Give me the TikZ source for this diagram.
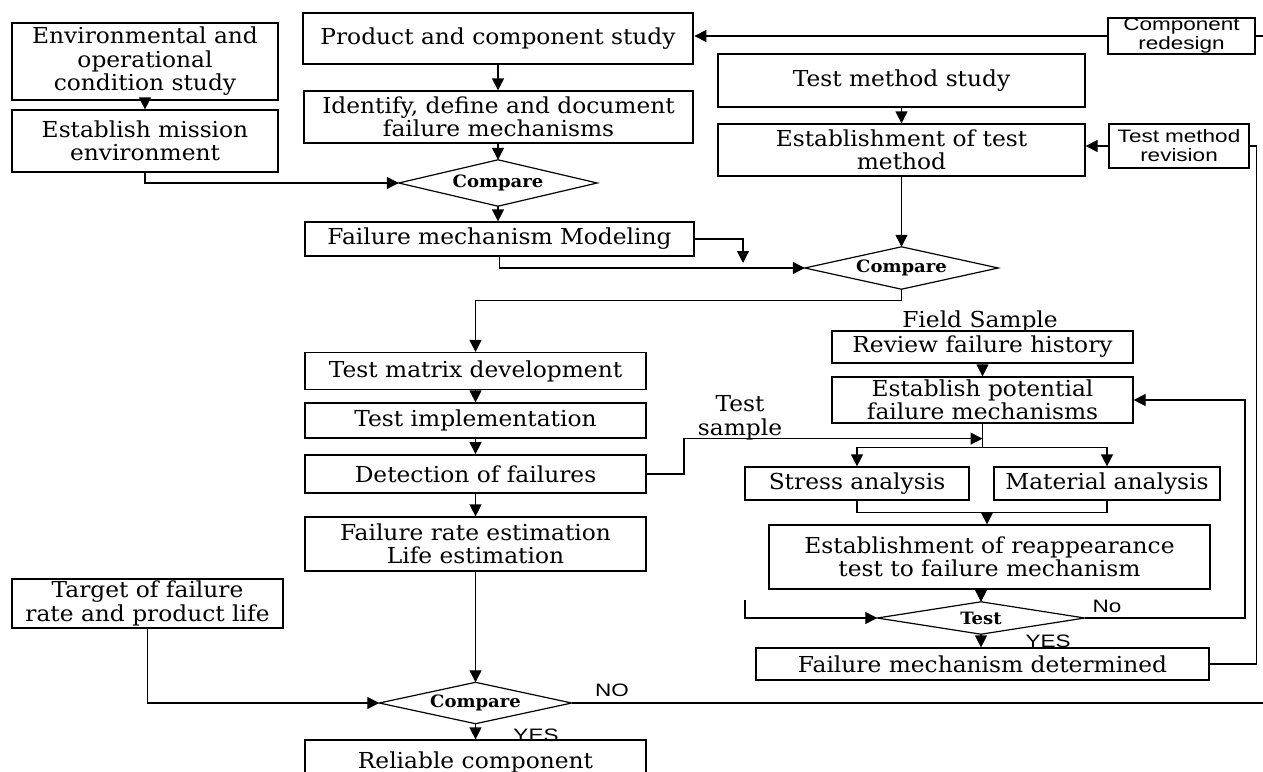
\documentclass[tikz,border=0pt]{standalone}
\usepackage{fontspec}
\setmainfont{DejaVu Serif}[FakeStretch=1.06]
\newfontfamily\lsans{Liberation Sans}[FakeStretch=1.25]
\usetikzlibrary{shapes.geometric,arrows.meta,calc}
\newcommand{\mfs}{\fontsize{22}{23.5}\selectfont}
\newcommand{\cfs}{\fontsize{17}{18}\selectfont\bfseries}
\newcommand{\sfsz}{\lsans\fontsize{18}{19}\selectfont}
\newcommand{\drawdiamond}[1]{\draw[line width=1.2pt] (#1.north) -- (#1.east) -- (#1.south) -- (#1.west) -- cycle;}
\begin{document}
\begin{tikzpicture}[x=1pt,y=-1pt,
  box/.style={draw, line width=1.2pt, inner sep=0pt, align=center, font=\mfs},
  thickbox/.style={box, line width=2.8pt},
  sbox/.style={draw, line width=1.2pt, inner sep=0pt, align=center, font=\sfsz},
  dec/.style={rectangle, inner sep=0pt, font=\cfs},
  lab/.style={inner sep=0pt, font=\sfsz},
  tlab/.style={inner sep=0pt, align=center, font=\mfs},
  ln/.style={line width=1.2pt},
  arr/.style={line width=1.2pt, -{Triangle[length=12pt,width=12pt]}}]
\fill[white] (0,0) rectangle (1263,771);
\useasboundingbox (0,0) rectangle (1263,771);

% top-left column
\node[thickbox, minimum width=266, minimum height=77] (env) at (145,61.5) {Environmental and\\operational\\condition study};
\node[box, minimum width=266, minimum height=62] (mission) at (145,141) {Establish mission\\environment};

% centre column
\node[thickbox, minimum width=390, minimum height=51] (product) at (498,38.5) {Product and component study};
\node[box, minimum width=389, minimum height=52] (identify) at (498.5,117) {Identify, define and document\\failure mechanisms};
\node[dec, minimum width=198, minimum height=46] (cmp1) at (498,183) {Compare};
\node[box, minimum width=389, minimum height=34] (fmm) at (499.5,239) {Failure mechanism Modeling};

% top-right
\node[thickbox, minimum width=367, minimum height=53] (tms) at (901.5,80.5) {Test method study};
\node[box, minimum width=367, minimum height=52] (estm) at (901.5,150) {Establishment of test\\method};
\node[sbox, minimum width=147, minimum height=36] (compred) at (1181.5,36) {Component\\redesign};
\node[sbox, minimum width=140, minimum height=44] (tmrev) at (1179,146) {Test method\\revision};
\node[dec, minimum width=193, minimum height=42] (cmp2) at (901.5,268) {Compare};

% left lower column
\node[box, minimum width=341, minimum height=37] (testmatrix) at (475.5,371) {Test matrix development};
\node[box, minimum width=341, minimum height=35] (testimpl) at (475.5,420.5) {Test implementation};
\node[box, line width=1.8pt, minimum width=341, minimum height=38] (detect) at (475.5,474) {Detection of failures};
\node[box, minimum width=341, minimum height=54] (failrate) at (475.5,544) {Failure rate estimation\\Life estimation};
\node[box, minimum width=271, minimum height=49] (target) at (147.5,603.5) {Target of failure\\rate and product life};
\node[dec, minimum width=192, minimum height=41] (cmp3) at (475.5,703) {Compare};
\node[box, minimum width=341, minimum height=44] (reliable) at (475.5,762) {Reliable component};
\node[tlab] (tsample) at (740,418) {Test\\sample};

% right lower column
\node[tlab] (field) at (980,321) {Field Sample};
\node[box, minimum width=301, minimum height=32] (review) at (982.5,347) {Review failure history};
\node[box, minimum width=301, minimum height=46] (estpot) at (982.5,400) {Establish potential\\failure mechanisms};
\node[box, minimum width=224, minimum height=33] (stress) at (857,483.5) {Stress analysis};
\node[box, minimum width=226, minimum height=33] (material) at (1107,483.5) {Material analysis};
\node[box, minimum width=441, minimum height=64] (reapp) at (989.5,557) {Establishment of reappearance\\test to failure mechanism};
\node[dec, minimum width=207, minimum height=32] (testd) at (981,618) {Test};
\node[box, minimum width=453, minimum height=32] (fmd) at (982.5,664) {Failure mechanism determined};

% diamonds
\drawdiamond{cmp1}
\drawdiamond{cmp2}
\drawdiamond{cmp3}
\drawdiamond{testd}

% labels
\node[lab] (nolab) at (1107,606) {No};
\node[lab] (yeslab) at (1048,641) {YES};
\node[lab] (nolab2) at (612,690) {NO};
\node[lab] (yeslab2) at (536,735) {YES};

% free ends
\coordinate (edgeA) at (1263,36);
\coordinate (edgeB) at (1263,703);
\coordinate (fmmdrop) at (743,263);
\coordinate (tsend) at ($(estpot.south)+(0,15)$);
\coordinate (spl) at ($(estpot.south)+(0,24)$);
\coordinate (jn) at (987,512);
\coordinate (noloop) at (1245,618);
\coordinate (lstub) at (745,600);

% connectors
\draw[arr] (env.south) -- (mission.north);
\draw[arr] (mission.south) |- (cmp1.west);
\draw[arr] (product.south) -- (product.south |- identify.north);
\draw[arr] (identify.south -| cmp1.north) -- (cmp1.north);
\draw[arr] (cmp1.south) -- (cmp1.south |- fmm.north);
\draw[arr] (compred.west) -- (compred.west -| product.east);
\draw[ln] (compred.east) -- (edgeA);
\draw[arr] (tms.south) -- (estm.north);
\draw[arr] (tmrev.west) -- (tmrev.west -| estm.east);
\draw[ln] (tmrev.east) -- ++(7,0) |- (fmd.east);
\draw[arr] (fmm.east) -| (fmmdrop);
\draw[arr] (fmm.south) |- (cmp2.west);
\draw[arr] (estm.south) -- (cmp2.north);
\draw[arr] (cmp2.south) -- ++(0,11) -| (testmatrix.north);
\draw[arr] (testmatrix.south) -- (testimpl.north);
\draw[arr] (testimpl.south) -- (detect.north);
\draw[arr] (detect.south) -- (failrate.north);
\draw[arr] (failrate.south) -- (cmp3.north);
\draw[arr] (target.south) |- (cmp3.west);
\draw[ln] (cmp3.east) -- (edgeB);
\draw[arr] (cmp3.south) -- (reliable.north);
\draw[arr] (detect.east) -- ++(37,0) |- (tsend);
\draw[arr] (review.south) -- (estpot.north);
\draw[ln] (estpot.south) -- (spl);
\draw[arr] (spl) -| (stress.north);
\draw[arr] (spl) -| (material.north);
\draw[ln] (stress.south) -- ++(0,12) -| (material.south);
\draw[arr] (jn) -- (jn |- reapp.north);
\draw[arr] (reapp.south -| testd.north) -- (testd.north);
\draw[arr] (testd.south) -- (testd.south |- fmd.north);
\draw[arr] (testd.east) -- (noloop) |- (estpot.east);
\draw[arr] (lstub) |- (testd.west);
\end{tikzpicture}
\end{document}
